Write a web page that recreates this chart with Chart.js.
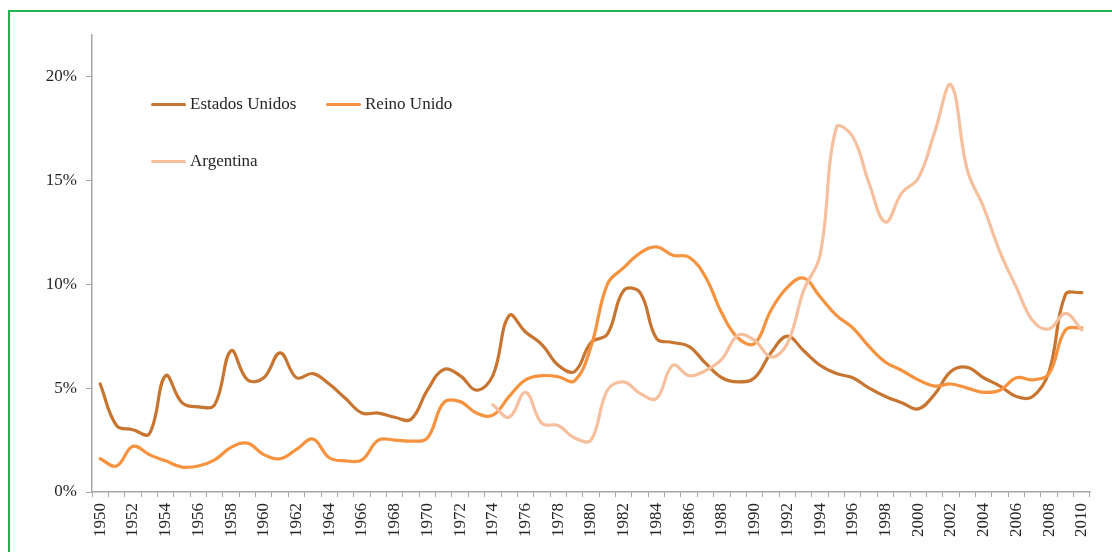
<!DOCTYPE html>
<html>
<head>
<meta charset="utf-8">
<script src="https://cdn.jsdelivr.net/npm/chart.js@4"></script>
<style>
  html, body { margin: 0; padding: 0; background: #fff; }
  #wrap { position: relative; width: 1112px; height: 552px; overflow: hidden; }
  #frame { position: absolute; left: 8px; top: 10px; width: 1200px; height: 600px;
           border: 2px solid #22b14c; box-sizing: border-box; }
  #chart { position: absolute; left: 0; top: 0; }
  .leg { position: absolute; font: 17px "Liberation Serif", serif; color: #262626;
         white-space: nowrap; line-height: 17px; }
  .leg i { display: inline-block; width: 35px; height: 3px; border-radius: 2px;
           vertical-align: middle; margin-right: 4px; position: relative; top: -1px; }
</style>
</head>
<body>
<div id="wrap">
  <div id="frame"></div>
  <canvas id="chart" width="1112" height="552"></canvas>
  <div class="leg" style="left:151px; top:95px;"><i style="background:#c77530"></i>Estados Unidos</div>
  <div class="leg" style="left:326px; top:95px;"><i style="background:#f7923f"></i>Reino Unido</div>
  <div class="leg" style="left:151px; top:152px;"><i style="background:#f6bf9e"></i>Argentina</div>
</div>
<script>
// --- data (percent) ---
const years = [];
for (let y = 1950; y <= 2010; y++) years.push(String(y));

const estadosUnidos = [
  5.2, 3.2, 3.0, 2.8, 5.6, 4.3, 4.1, 4.2, 6.8, 5.4,
  5.5, 6.7, 5.5, 5.7, 5.2, 4.5, 3.8, 3.8, 3.6, 3.5,
  4.9, 5.9, 5.6, 4.9, 5.6, 8.5, 7.7, 7.1, 6.1, 5.8,
  7.2, 7.6, 9.7, 9.6, 7.4, 7.2, 7.0, 6.2, 5.5, 5.3,
  5.5, 6.7, 7.5, 6.8, 6.1, 5.7, 5.5, 5.0, 4.6, 4.3,
  4.0, 4.7, 5.8, 6.0, 5.5, 5.1, 4.6, 4.6, 5.8, 9.5,
  9.6
];

const reinoUnido = [
  1.6, 1.25, 2.2, 1.8, 1.5, 1.2, 1.25, 1.55, 2.15, 2.35,
  1.8, 1.6, 2.05, 2.55, 1.65, 1.5, 1.55, 2.5, 2.5, 2.45,
  2.6, 4.3, 4.35, 3.8, 3.7, 4.6, 5.4, 5.6, 5.55, 5.35,
  7.0, 10.0, 10.8, 11.5, 11.8, 11.4, 11.3, 10.35, 8.6, 7.4,
  7.15, 8.75, 9.85, 10.3, 9.4, 8.5, 7.9, 7.0, 6.25, 5.85,
  5.4, 5.1, 5.2, 5.0, 4.8, 4.9, 5.5, 5.4, 5.7, 7.8,
  7.9
];

const argentina = [
  null, null, null, null, null, null, null, null, null, null,
  null, null, null, null, null, null, null, null, null, null,
  null, null, null, null, 4.2, 3.6, 4.8, 3.3, 3.2, 2.6,
  2.5, 4.9, 5.3, 4.75, 4.5, 6.1, 5.6, 5.85, 6.4, 7.55,
  7.3, 6.5, 7.15, 9.7, 11.4, 17.55, 17.1, 14.85, 13.0, 14.4,
  15.1, 17.3, 19.6, 15.5, 13.7, 11.55, 9.85, 8.25, 7.85, 8.6,
  7.8
];

const yTicks = [0, 5, 10, 15, 20];

// --- chart ---
const font = { family: '"Liberation Serif", serif', size: 17 };
Chart.defaults.color = '#262626';

function line(label, values, color) {
  return {
    label: label, data: values,
    borderColor: color, backgroundColor: color,
    borderWidth: 3.2, tension: 0.4, pointRadius: 0,
    spanGaps: false, borderCapStyle: 'round', borderJoinStyle: 'round'
  };
}

new Chart(document.getElementById('chart'), {
  type: 'line',
  data: {
    labels: years,
    datasets: [
      line('Argentina', argentina, '#f6bf9e'),
      line('Reino Unido', reinoUnido, '#f7923f'),
      line('Estados Unidos', estadosUnidos, '#c77530')
    ]
  },
  options: {
    responsive: false,
    animation: false,
    layout: { padding: { left: 0, top: 35, right: 22, bottom: 0 } },
    plugins: { legend: { display: false }, tooltip: { enabled: false } },
    scales: {
      x: {
        type: 'category',
        offset: true,
        grid: { offset: true, drawOnChartArea: false, drawTicks: true,
                tickLength: 5, color: '#a6a6a6', lineWidth: 1 },
        border: { color: '#a6a6a6', width: 1.5 },
        ticks: {
          autoSkip: false, maxRotation: 90, minRotation: 90, padding: 6,
          font: font, color: '#262626',
          callback: function (v, i) { return i % 2 === 0 ? this.getLabelForValue(v) : ''; }
        },
        afterFit: s => { s.height = 60; }
      },
      y: {
        min: 0, max: 22,
        afterBuildTicks: s => { s.ticks = yTicks.map(v => ({ value: v })); },
        grid: { drawOnChartArea: false, drawTicks: true, tickLength: 6, color: '#a6a6a6' },
        border: { color: '#a6a6a6', width: 1.5 },
        ticks: { font: font, color: '#262626', padding: 9,
                 callback: v => v + '%' },
        afterFit: s => { s.width = 92; }
      }
    }
  }
});
</script>
</body>
</html>
